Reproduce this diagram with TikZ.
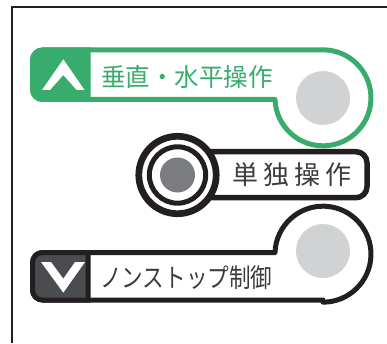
\documentclass[tikz,border=0pt]{standalone}
\usepackage{fontspec}
\newfontfamily\jp{Noto Sans CJK JP}
\definecolor{swgreen}{HTML}{38AC6C}
\definecolor{swgray}{HTML}{D1D2D4}
\definecolor{swdark}{HTML}{7B7C80}
\definecolor{swbox}{HTML}{4B4C4F}
\definecolor{swtext}{HTML}{3C3C3E}
\definecolor{swline}{HTML}{231F20}
\tikzstyle{frame} = [line width=2pt, draw=swline]
\tikzstyle{panel} = [line width=5pt, line join=round, fill=white]
\tikzstyle{caption} = [anchor=west, inner sep=0pt, font=\jp\fontsize{25}{25}\selectfont]
\tikzstyle{lamp} = [fill=swgray]
\tikzstyle{chevron} = [fill=white]

\begin{document}
\begin{tikzpicture}[x=1pt, y=1pt]
\useasboundingbox (0,0) rectangle (387,343);
\draw [frame] (12,0) -- (12,336) -- (387,336);

% vertical / horizontal
\draw [panel, draw=swgreen] (323,293) -- (42.5,293) arc[start angle=90, end angle=180, radius=10] -- (32.5,253.5) arc[start angle=180, end angle=270, radius=10] -- (275,243.5) arc[start angle=182, end angle=450, radius=48] -- cycle;
\filldraw [fill=swgreen, draw=swgreen, line width=5pt] (88,293) -- (42.5,293) arc[start angle=90, end angle=180, radius=10] -- (32.5,253.5) arc[start angle=180, end angle=270, radius=10] -- (88,243.5) -- cycle;
\fill [chevron] (42,253) -- (63.3,283.7) -- (84.5,253) -- (76.7,253) -- (63.3,268) -- (50,253) -- cycle;
\fill [lamp] (323,245) circle[radius=27];
\node (updown) [caption, text=swgreen] at (101,266) {\scalebox{0.98}[1]{垂直・水平操作}};

% single
\draw [panel, draw=swline, line width=5.5pt] (177.5,191.3) -- (356,191.3) arc[start angle=90, end angle=0, radius=11] -- (367,156.3) arc[start angle=0, end angle=-90, radius=11] -- (177.5,145.3);
\draw [fill=white, draw=swline, line width=6.7pt] (177.5,168) circle[radius=38.7];
\draw [draw=swline, line width=5pt] (177.5,168) circle[radius=28.2];
\fill [swdark] (177.5,168) circle[radius=17.5];
\node (single) [caption, text=swtext, font=\jp\fontsize{26}{26}\selectfont] at (232,168) {単\hspace{5pt}独\hspace{5pt}操\hspace{5pt}作};

% nonstop
\draw [panel, draw=swline] (323,43) -- (42.5,43) arc[start angle=270, end angle=180, radius=10] -- (32.5,80.5) arc[start angle=180, end angle=90, radius=10] -- (275,90.5) arc[start angle=178, end angle=-90, radius=48] -- cycle;
\filldraw [fill=swbox, draw=swline, line width=5pt] (88,43) -- (42.5,43) arc[start angle=270, end angle=180, radius=10] -- (32.5,80.5) arc[start angle=180, end angle=90, radius=10] -- (88,90.5) -- cycle;
\fill [chevron] (41,81) -- (63.3,50.3) -- (85,81) -- (75,81) -- (63.3,64.3) -- (51,81) -- cycle;
\fill [lamp] (323,92) circle[radius=27];
\node (nonstop) [caption, text=swtext, font=\jp\fontsize{26}{26}\selectfont] at (100,65) {\scalebox{0.83}[1]{ノンストップ制御}};
\end{tikzpicture}
\end{document}
